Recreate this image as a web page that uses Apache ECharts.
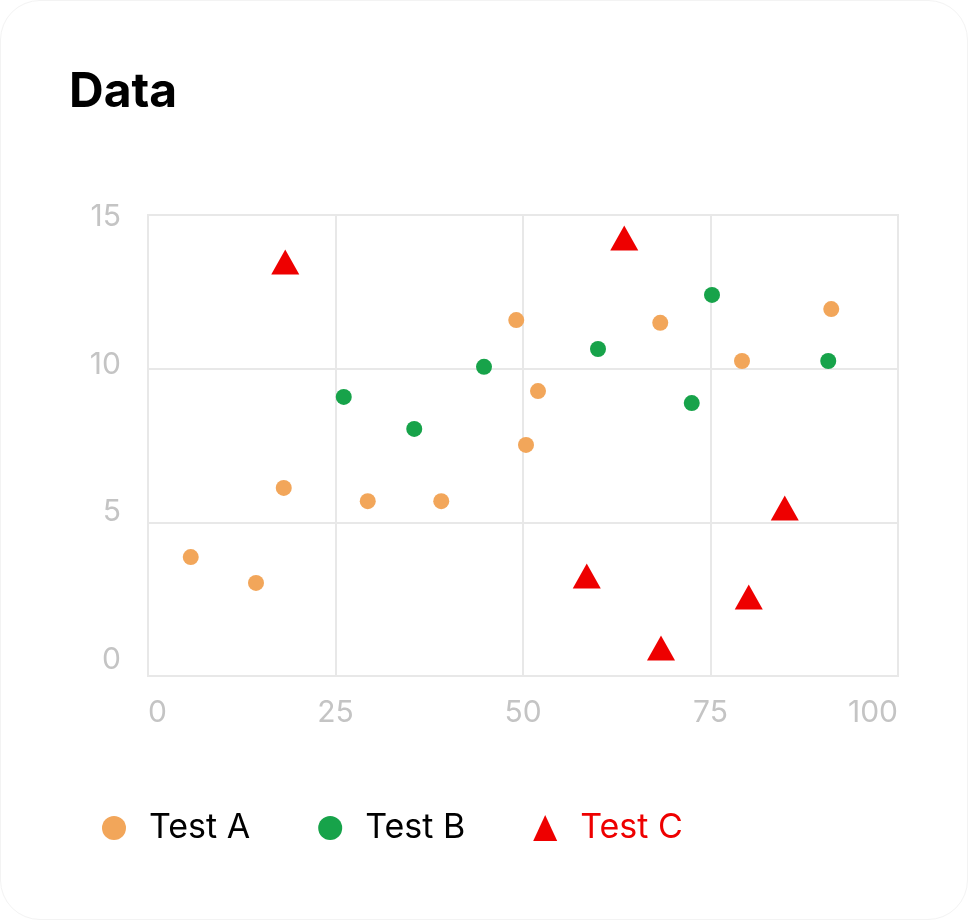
<!DOCTYPE html>
<html><head><meta charset="utf-8">
<script src="https://cdn.jsdelivr.net/npm/echarts@6/dist/echarts.min.js"></script>
<style>
html,body{margin:0;padding:0;background:#fff;width:968px;height:920px;overflow:hidden}
#card{position:absolute;left:0;top:0;width:966px;height:918px;border:1px solid #f3f3f3;border-radius:40px;background:#fff}
#chart{position:absolute;left:0;top:0;width:968px;height:920px}
</style></head>
<body>
<div id="card"></div>
<div id="chart"></div>
<script>
const seriesNames = ['Test A', 'Test B', 'Test C'];
const testA = [[5.7,3.87],[14.4,3.03],[18.1,6.12],[29.3,5.69],[39.1,5.69],[49.1,11.58],[52.0,9.27],[50.4,7.52],[68.3,11.49],[79.2,10.25],[91.1,11.94]];
const testB = [[26.1,9.08],[35.5,8.04],[44.8,10.06],[60.0,10.64],[72.5,8.88],[75.2,12.4],[90.7,10.25]];
const testC = [[18.3,13.47],[63.5,14.25],[58.5,3.25],[68.4,0.91],[80.1,2.57],[84.9,5.47]];
const xTicks = [0, 25, 50, 75, 100];
const yTicks = [0, 5, 10, 15];

const colors = ['#F2A65A', '#17A34A', '#EE0000'];
const font = 'Inter, "Noto Sans", sans-serif';
const ellipse = 'path://M0,50A50,50,0,1,1,100,50A50,50,0,1,1,0,50Z';

const chart = echarts.init(document.getElementById('chart'), null, {renderer: 'canvas'});
chart.setOption({
  backgroundColor: 'transparent',
  animation: false,
  title: {
    text: 'Data', left: 64, top: 64,
    textStyle: {fontFamily: font, fontSize: 48, fontWeight: 'bold', color: '#000'}
  },
  legend: {
    left: 102, top: 811, padding: 0, itemGap: 68, itemWidth: 24, itemHeight: 26,
    textStyle: {fontFamily: font, fontSize: 34, color: '#000', padding: [0, 0, 0, 18]},
    data: [
      {name: seriesNames[0], icon: ellipse},
      {name: seriesNames[1], icon: ellipse},
      {name: seriesNames[2], icon: 'triangle', textStyle: {color: colors[2]}}
    ]
  },
  grid: [
    {left: 148, top: 215, right: 70, bottom: 244, show: true, borderColor: '#e8e8e8', borderWidth: 2},
    {left: 148, top: 217, right: 70, height: 443, show: false}
  ],
  xAxis: [
    {
      type: 'value', gridIndex: 0, min: xTicks[0], max: xTicks[xTicks.length - 1], interval: 25,
      axisLine: {show: true, lineStyle: {color: '#e8e8e8', width: 2}},
      axisTick: {show: false},
      splitLine: {show: true, lineStyle: {color: '#e8e8e8', width: 2}},
      axisLabel: {
        fontFamily: font, fontSize: 30, color: '#c4c4c4', margin: 22,
        alignMinLabel: 'left', alignMaxLabel: 'right'
      }
    },
    {type: 'value', gridIndex: 1, min: 0, max: 100, show: false}
  ],
  yAxis: [
    {
      type: 'value', gridIndex: 0, min: yTicks[0], max: yTicks[yTicks.length - 1], interval: 5,
      axisLine: {show: true, lineStyle: {color: '#e8e8e8', width: 2}},
      axisTick: {show: false},
      splitLine: {show: true, lineStyle: {color: '#e8e8e8', width: 2}},
      axisLabel: {show: false}
    },
    {
      type: 'value', gridIndex: 1, min: yTicks[0], max: yTicks[yTicks.length - 1], interval: 5,
      axisLine: {show: false}, axisTick: {show: false}, splitLine: {show: false},
      axisLabel: {fontFamily: font, fontSize: 30, color: '#c4c4c4', margin: 27}
    }
  ],
  series: [
    {name: seriesNames[0], type: 'scatter', data: testA, symbol: 'circle', symbolSize: 16, itemStyle: {color: colors[0], opacity: 1}},
    {name: seriesNames[1], type: 'scatter', data: testB, symbol: 'circle', symbolSize: 16, itemStyle: {color: colors[1], opacity: 1}},
    {name: seriesNames[2], type: 'scatter', data: testC, symbol: 'triangle', symbolSize: [28, 25], itemStyle: {color: colors[2], opacity: 1}}
  ]
});
</script>
</body></html>
